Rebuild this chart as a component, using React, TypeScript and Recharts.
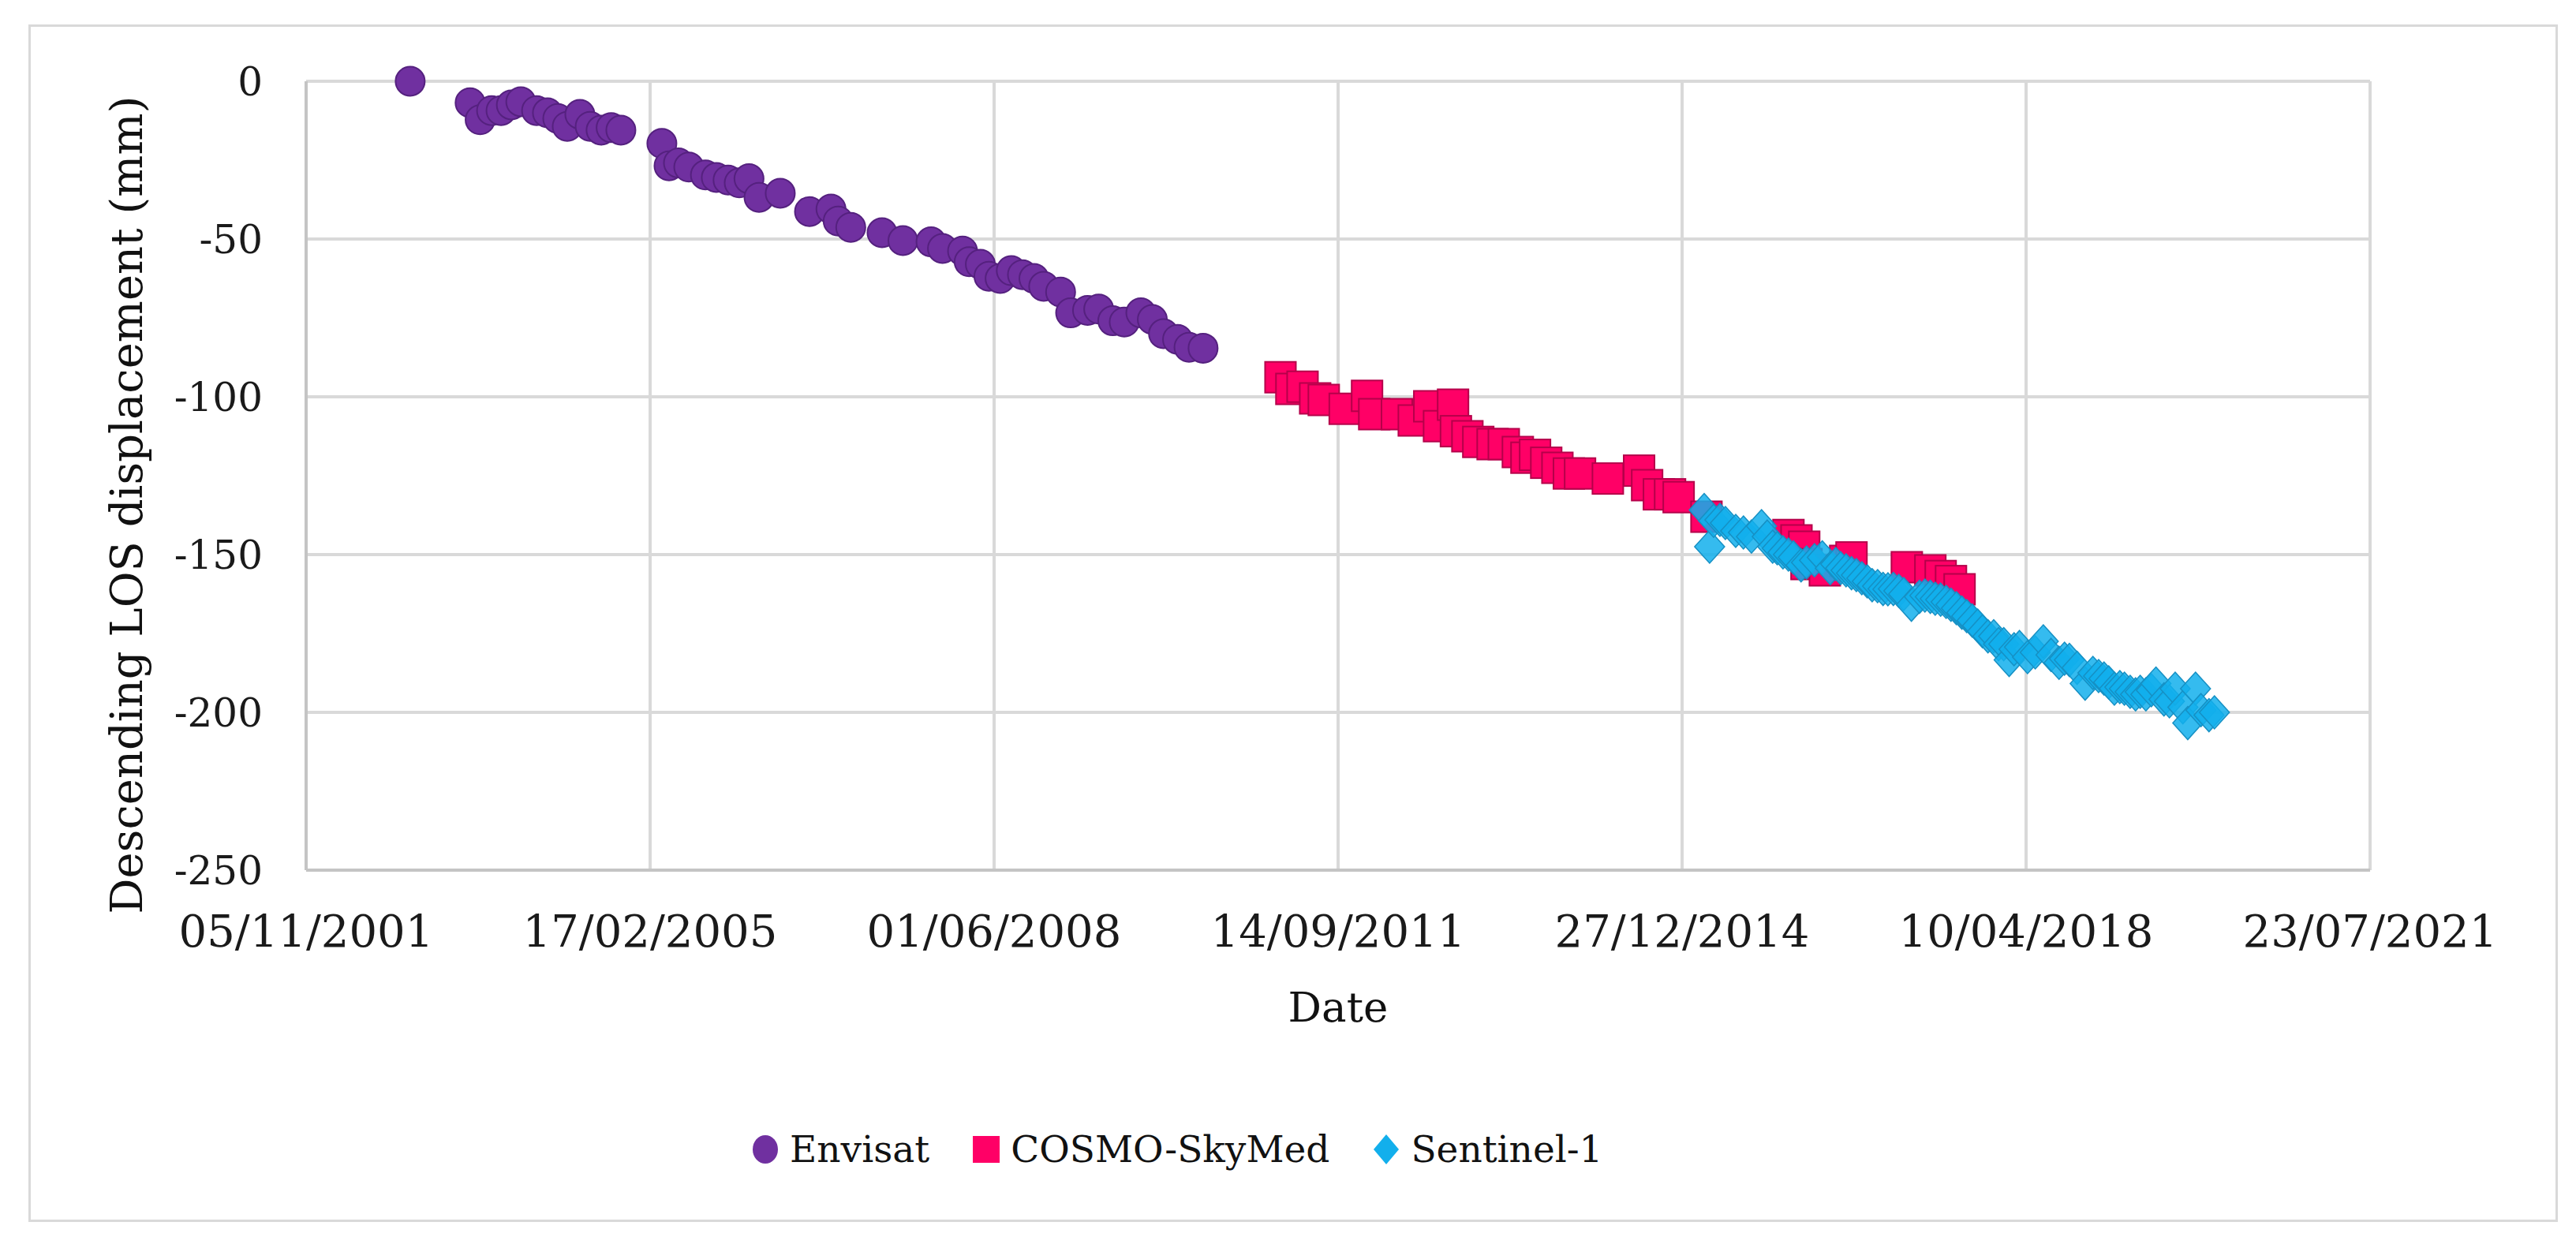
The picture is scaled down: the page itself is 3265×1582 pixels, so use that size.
import React from 'react';
import { ScatterChart, Scatter, XAxis, YAxis, CartesianGrid, Legend } from 'recharts';

const W = 3265;
const H = 1582;
const FONT = '"DejaVu Serif", serif';
const GRID = '#d9d9d9';

// x values are Excel day serials, y values are LOS displacement in mm
const envisatDates = [
  37563, 37772, 37807, 37847, 37880, 37916, 37949, 38004, 38042, 38078,
  38111, 38155, 38191, 38229, 38264, 38298, 38441, 38466, 38499, 38535,
  38593, 38631, 38672, 38711, 38745, 38780, 38854, 38956, 39031, 39056,
  39100, 39209, 39282, 39380, 39420, 39490, 39513, 39552, 39582, 39621,
  39660, 39699, 39739, 39773, 39832, 39867, 39926, 39965, 40014, 40054,
  40112, 40152, 40191, 40240, 40280, 40329,
];
const envisatLos = [
  0, -6.8, -12.2, -9.3, -9.3, -7.5, -6.5, -9.3, -10, -11.8,
  -14.3, -10.5, -14.3, -15.5, -14.7, -15.5, -19.7, -26.8, -25.9, -27.2,
  -29.7, -30.5, -31.3, -32.2, -30.9, -36.8, -35.5, -41.3, -40.5, -44.3,
  -46.3, -48, -50.5, -50.9, -53, -53.8, -57.2, -58, -61.8, -62.5,
  -60, -61.3, -62.5, -65, -66.8, -73.4, -72.6, -72.2, -75.9, -76.3,
  -73.4, -75.5, -80, -81.8, -84.3, -84.6,
];

const cskDates = [
  40599, 40637, 40676, 40720, 40750, 40823, 40901, 40926, 41005, 41064,
  41118, 41152, 41201, 41211, 41251, 41289, 41339, 41378, 41427, 41457,
  41487, 41526, 41565, 41605, 41644, 41741, 41850, 41878, 41919, 41958,
  41988, 42085, 42371, 42399, 42426, 42434, 42498, 42569, 42591, 42784,
  42866, 42902, 42938, 42968,
];
const cskLos = [
  -93.8, -97.5, -96.8, -100.5, -101, -103.8, -99.7, -105.5, -105.5, -107.5,
  -103, -109.3, -102.5, -110.9, -112.5, -114.3, -115, -115, -117.5, -119.3,
  -118.4, -120.9, -122.5, -124.3, -124.3, -125.9, -123.4, -128, -130.9, -130.9,
  -131.8, -138, -143.8, -145.5, -147.5, -153, -155, -152, -150.9, -154,
  -155, -156.8, -158.4, -161,
];

const s1Dates = [
  42077, 42096, 42110, 42132, 42151, 42187, 42214, 42242, 42277, 42297,
  42316, 42332, 42352, 42371, 42388, 42415, 42434, 42462, 42489, 42517,
  42536, 42553, 42572, 42591, 42608, 42627, 42646, 42663, 42682, 42701,
  42718, 42737, 42756, 42773, 42800, 42828, 42847, 42866, 42883, 42902,
  42921, 42938, 42957, 42976, 42993, 43012, 43031, 43048, 43067, 43087,
  43104, 43122, 43141, 43158, 43177, 43205, 43232, 43260, 43287, 43315,
  43334, 43351, 43378, 43406, 43433, 43453, 43472, 43488, 43508, 43527,
  43543, 43563, 43582, 43598, 43618, 43637, 43653, 43681, 43700, 43720,
  43747, 43764, 43791, 43810, 43838, 43857,
];
const s1Los = [
  -135.9, -147.5, -139.3, -139, -140, -142.5, -143, -144.3, -141, -144.3,
  -147.5, -148, -149.3, -150, -150.9, -153.4, -152.5, -151.8, -150.9, -154.3,
  -153, -154.3, -155, -155.9, -156.5, -157.5, -158.5, -159.7, -160, -160.9,
  -161, -160.9, -161.5, -162.5, -165.9, -163.4, -163, -163.4, -164, -164.3,
  -165, -165.9, -167, -168.4, -169.5, -170.9, -172.5, -174.3, -175.9, -175.9,
  -178.4, -178.4, -183.4, -180, -179.3, -182.5, -181, -177.5, -181.8, -184.3,
  -183, -183.4, -185.9, -190.9, -187.5, -188.5, -189.3, -190.5, -192.5, -192,
  -192.5, -193.5, -194.3, -193.5, -194.3, -193, -190.9, -195.9, -196.5, -192.5,
  -198.4, -203.4, -192.5, -199.3, -200.9, -200,
];

const xTicks = [37200, 38400, 39600, 40800, 42000, 43200, 44400];
const yTicks = [0, -50, -100, -150, -200, -250];

const toRows = (d: number[], v: number[]) => d.map((x, i) => ({ x, y: v[i] }));

const serialLabel = (s: number) => {
  const d = new Date(Date.UTC(1899, 11, 30) + s * 86400000);
  const p = (n: number) => String(n).padStart(2, '0');
  return `${p(d.getUTCDate())}/${p(d.getUTCMonth() + 1)}/${d.getUTCFullYear()}`;
};

const Dot = ({ cx, cy }: any) => (
  <circle cx={cx} cy={cy} r={18.5} fill="#7030A0" stroke="#55217f" strokeWidth={2} />
);
const Sq = ({ cx, cy }: any) => (
  <rect x={cx - 19.5} y={cy - 19.5} width={39} height={39} fill="#FF0066" stroke="#b5004a" strokeWidth={2} />
);
const Dia = ({ cx, cy }: any) => (
  <path
    d={`M${cx},${cy - 21}L${cx + 19},${cy}L${cx},${cy + 21}L${cx - 19},${cy}Z`}
    fill="#12AFEC" fillOpacity={0.85} stroke="#1690c4" strokeWidth={1.5}
  />
);

const legendItems = [
  { name: 'Envisat', mark: <ellipse cx={17} cy={19} rx={16} ry={18} fill="#7030A0" /> },
  { name: 'COSMO-SkyMed', mark: <rect x={0} y={2} width={34} height={34} fill="#FF0066" /> },
  { name: 'Sentinel-1', mark: <path d="M17,0L33,19L17,38L1,19Z" fill="#12AFEC" /> },
];

const LegendBox = () => (
  <div style={{ display: 'flex', alignItems: 'center', height: 60, fontFamily: FONT, fontSize: 47, color: '#111' }}>
    {legendItems.map((it, i) => (
      <div key={it.name} style={{ display: 'flex', alignItems: 'center', marginRight: i < 2 ? 55 : 0 }}>
        <svg width={34} height={38} style={{ marginRight: 14 }}>{it.mark}</svg>
        <span style={{ lineHeight: '60px', whiteSpace: 'nowrap' }}>{it.name}</span>
      </div>
    ))}
  </div>
);

const YTitle = () => (
  <text x={180} y={640} transform="rotate(-90 180 640)" textAnchor="middle"
    fontFamily={FONT} fontSize={56} fill="#111">
    Descending LOS displacement (mm)
  </text>
);

const XTitle = () => (
  <text x={1696} y={1295} textAnchor="middle" fontFamily={FONT} fontSize={53} fill="#111">
    Date
  </text>
);

const xTickStyle = { fontFamily: FONT, fontSize: 56, fill: '#1a1a1a' };
const yTickStyle = { fontFamily: FONT, fontSize: 50, fill: '#1a1a1a' };

export default function App() {
  return (
    <div style={{ position: 'absolute', left: 0, top: 0, width: W, height: H, background: '#fff' }}>
      <div style={{
        position: 'absolute', left: 36, top: 31, width: 3206, height: 1518,
        border: `3px solid ${GRID}`, boxSizing: 'border-box', pointerEvents: 'none',
      }} />
      <ScatterChart width={W} height={H} margin={{ top: 103, right: 261, bottom: 199, left: 60 }}>
        <CartesianGrid stroke={GRID} strokeWidth={4} />
        <XAxis
          dataKey="x" type="number" domain={[37200, 44400]} ticks={xTicks}
          tickFormatter={serialLabel} tick={xTickStyle} tickLine={false} tickSize={0}
          tickMargin={57} height={220} interval={0}
          axisLine={{ stroke: '#c4c4c4', strokeWidth: 4 }}
          label={<XTitle />}
        />
        <YAxis
          dataKey="y" type="number" domain={[-250, 0]} ticks={yTicks}
          tick={yTickStyle} tickLine={false} tickSize={0} tickMargin={55} width={328}
          interval={0} axisLine={{ stroke: '#c4c4c4', strokeWidth: 4 }}
          label={<YTitle />}
        />
        <Legend verticalAlign="bottom" content={<LegendBox />}
          wrapperStyle={{ left: 953, top: 1427, width: 1400, height: 60 }} />
        <Scatter name="Envisat" data={toRows(envisatDates, envisatLos)} shape={Dot} isAnimationActive={false} />
        <Scatter name="COSMO-SkyMed" data={toRows(cskDates, cskLos)} shape={Sq} isAnimationActive={false} />
        <Scatter name="Sentinel-1" data={toRows(s1Dates, s1Los)} shape={Dia} isAnimationActive={false} />
      </ScatterChart>
    </div>
  );
}
